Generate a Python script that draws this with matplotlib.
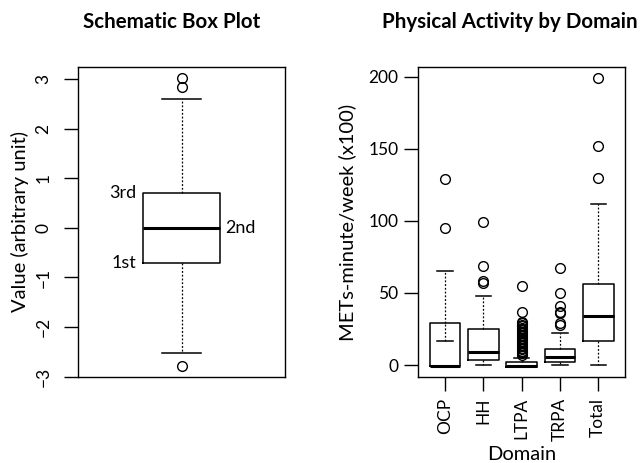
import matplotlib
matplotlib.use('Agg')
import matplotlib.pyplot as plt

plt.rcParams['font.family'] = ['Lato', 'DejaVu Sans']

# Левая панель: схематичный box plot
demo = dict(whislo=-2.53, q1=-0.71, med=0.0, q3=0.71, whishi=2.60,
            fliers=[2.85, 3.02, -2.78])
quart_labels = ['1st', '2nd', '3rd']
demo_ticks = [-3, -2, -1, 0, 1, 2, 3]

# Правая панель: физическая активность по доменам
domains = ['OCP', 'HH', 'LTPA', 'TRPA', 'Total']
q1 = [-1, 3.5, -1.5, 2.3, 17]
med = [-1, 8.8, -1, 5.3, 34]
q3 = [29, 24.8, 2, 10.9, 56]
whislo = [17, 0, -1.5, 0, 0]
whishi = [65, 48, 5, 22, 112]
fliers = [
    [95, 129],
    [57, 58, 69, 99],
    [7, 8, 9, 10, 11, 12, 13, 14, 15, 16, 17, 18, 19, 20, 21, 22, 23, 24,
     25, 26, 27, 28, 29, 30, 37, 55],
    [28, 29, 36, 37, 41, 50, 67],
    [130, 152, 199],
]
pa_ticks = [0, 50, 100, 150, 200]

W, H = 643, 463
fig = plt.figure(figsize=(W / 100, H / 100), dpi=100)

box_kw = dict(widths=0.8, capwidths=0.4, patch_artist=False,
              boxprops=dict(color='black', lw=1.1),
              medianprops=dict(color='black', lw=2.2),
              whiskerprops=dict(color='black', lw=0.9, linestyle=(0, (1.5, 1.5))),
              capprops=dict(color='black', lw=1.1),
              flierprops=dict(marker='o', mfc='none', mec='black', ms=7, mew=1.0))


def style(ax):
    for s in ax.spines.values():
        s.set_linewidth(1.0)
    ax.tick_params(direction='out', length=10, width=1.0, labelsize=12.5)


# --- левая ---
ax1 = fig.add_axes([78 / W, 1 - 377 / H, 207 / W, 310 / H])
ax1.bxp([dict(demo, label='')], positions=[1], **dict(box_kw, widths=0.4, capwidths=0.2))
ax1.set_xlim(0.46, 1.54)
ax1.set_ylim(-3.01, 3.25)
ax1.set_xticks([])
ax1.set_yticks(demo_ticks)
style(ax1)
ax1.tick_params(axis='y', pad=9)
for lab in ax1.get_yticklabels():
    lab.set_rotation(90)
    lab.set_va('center')
ax1.set_ylabel('Value (arbitrary unit)', fontsize=14.5, va='center')
ax1.yaxis.set_label_coords(-0.28, 0.5)
ax1.text(1 - 0.2 - 0.035, demo['q1'], quart_labels[0], ha='right', va='center', fontsize=13)
ax1.text(1 + 0.2 + 0.03, demo['med'], quart_labels[1], ha='left', va='center', fontsize=13)
ax1.text(1 - 0.2 - 0.035, demo['q3'], quart_labels[2], ha='right', va='center', fontsize=13)
fig.text(172 / W, 1 - 22 / H, 'Schematic Box Plot', ha='center', va='center',
         fontsize=14.8, fontweight='bold')

# --- правая ---
ax2 = fig.add_axes([418 / W, 1 - 377 / H, 207 / W, 310 / H])
stats = [dict(label=d, q1=a, med=m, q3=b, whislo=lo, whishi=hi, fliers=f)
         for d, a, m, b, lo, hi, f in zip(domains, q1, med, q3, whislo, whishi, fliers)]
res = ax2.bxp(stats, positions=range(1, len(domains) + 1), **box_kw)
# у OCP нижний ус нарисован от 17 вверх до Q3
res['whiskers'][0].set_ydata([whislo[0], q3[0]])
ax2.set_xlim(0.3, 5.7)
ax2.set_ylim(-8.3, 206.7)
ax2.set_yticks(pa_ticks)
style(ax2)
ax2.tick_params(axis='y', pad=4)
ax2.tick_params(axis='x', pad=5)
ax2.set_xticklabels(domains, rotation=90)
ax2.set_ylabel('METs-minute/week (x100)', fontsize=14.5, va='center')
ax2.yaxis.set_label_coords(-0.343, 0.5)
ax2.set_xlabel('Domain', fontsize=14.5, va='center')
ax2.xaxis.set_label_coords(0.5, -0.25)
fig.text(510 / W, 1 - 22 / H, 'Physical Activity by Domain', ha='center', va='center',
         fontsize=14.8, fontweight='bold')

fig.savefig('out.png', dpi=100)
